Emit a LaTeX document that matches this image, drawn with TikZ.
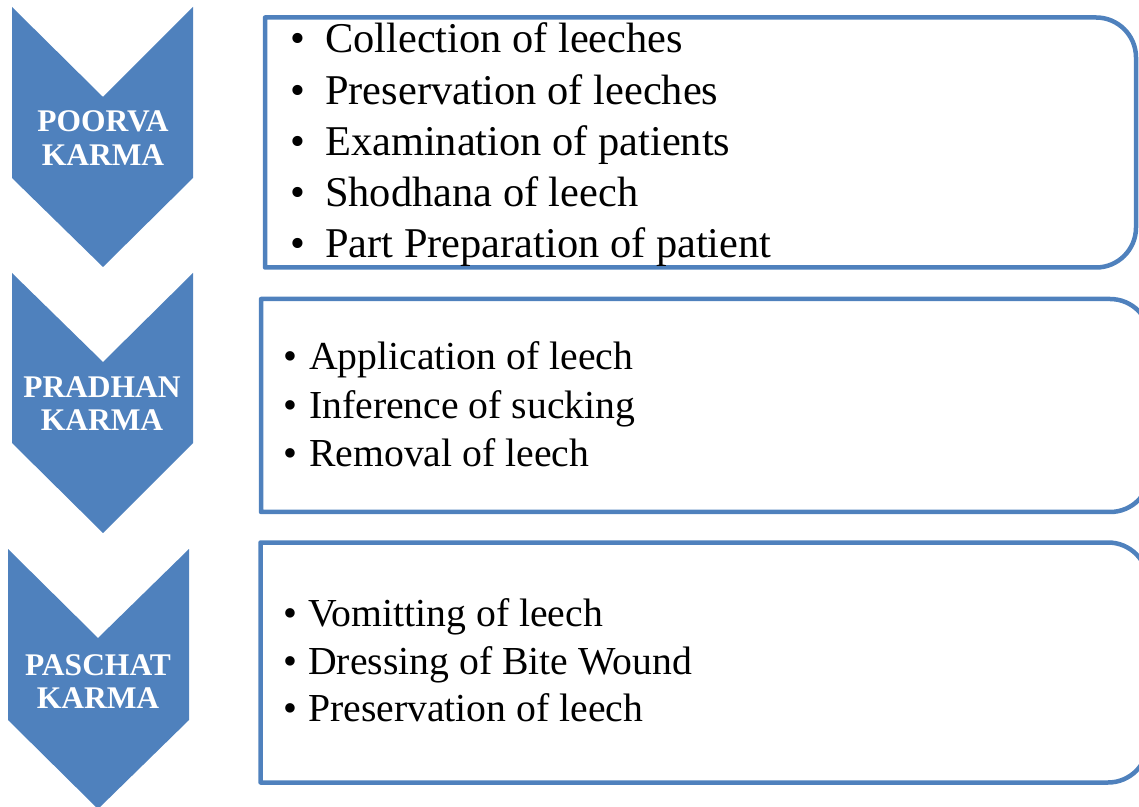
\documentclass[tikz,border=0pt]{standalone}
\usepackage{fontspec}
\setmainfont{Liberation Serif}
\definecolor{obl}{HTML}{4F81BD}
\begin{document}
\begin{tikzpicture}[x=1pt,y=1pt,
  chev/.style={fill=obl,draw=none},
  boxline/.style={draw=obl,line width=4.5pt,line join=round},
  chevtext/.style={text=white,font=\fontsize{31.5}{34}\selectfont\bfseries,inner sep=0pt,anchor=base},
  itemA/.style={anchor=base west,inner sep=0pt,font=\fontsize{42.4}{50}\selectfont},
  itemB/.style={anchor=base west,inner sep=0pt,font=\fontsize{39.7}{48}\selectfont}]
\useasboundingbox (0,0) rectangle (1139,806);
\clip (0,0) rectangle (1139,806);
% chevrons
\fill[chev] (12,799) -- (103,709) -- (193,799) -- (193,628) -- (103,539) -- (12,628) -- cycle;
\fill[chev] (12,533) -- (103,444) -- (193,533) -- (193,363) -- (103,273) -- (12,363) -- cycle;
\fill[chev] (8,257) -- (98,168) -- (189,257) -- (189,86) -- (98,-3) -- (8,86) -- cycle;
\node[chevtext] (c1a) at (103,674) {POORVA};
\node[chevtext] (c1b) at (103,640) {KARMA};
\node[chevtext] (c2a) at (102,408) {PRADHAN};
\node[chevtext] (c2b) at (102,375) {KARMA};
\node[chevtext] (c3a) at (98,131) {PASCHAT};
\node[chevtext] (c3b) at (98,98) {KARMA};
% boxes
\draw[boxline] (265,788.5) -- (1096,788.5) arc[start angle=90,end angle=0,radius=40pt] -- (1136,578.5) arc[start angle=0,end angle=-90,radius=40pt] -- (265,538.5) -- cycle;
\draw[boxline] (261,507) -- (1110,507) arc[start angle=90,end angle=0,radius=40pt] -- (1150,334) arc[start angle=0,end angle=-90,radius=40pt] -- (261,294) -- cycle;
\draw[boxline] (260.5,263.5) -- (1108,263.5) arc[start angle=90,end angle=0,radius=40pt] -- (1148,63.5) arc[start angle=0,end angle=-90,radius=40pt] -- (260.5,23.5) -- cycle;
% box 1 items
\node[itemA] (a1) at (290,753) {\makebox[35pt][l]{•}Collection of leeches};
\node[itemA] (a2) at (290,701.75) {\makebox[35pt][l]{•}Preservation of leeches};
\node[itemA] (a3) at (290,650.5) {\makebox[35pt][l]{•}Examination of patients};
\node[itemA] (a4) at (290,599.25) {\makebox[35pt][l]{•}Shodhana of leech};
\node[itemA] (a5) at (290,548) {\makebox[35pt][l]{•}Part Preparation of patient};
% box 2 items
\node[itemB] (b1) at (283.5,436) {\makebox[25.5pt][l]{•}Application of leech};
\node[itemB] (b2) at (283.5,387.5) {\makebox[25.5pt][l]{•}Inference of sucking};
\node[itemB] (b3) at (283.5,339) {\makebox[25.5pt][l]{•}Removal of leech};
% box 3 items
\node[itemB] (d1) at (283.5,179.3) {\makebox[24.5pt][l]{•}Vomitting of leech};
\node[itemB] (d2) at (283.5,131.7) {\makebox[24.5pt][l]{•}Dressing of Bite Wound};
\node[itemB] (d3) at (283.5,84.3) {\makebox[24.5pt][l]{•}Preservation of leech};
\end{tikzpicture}
\end{document}
